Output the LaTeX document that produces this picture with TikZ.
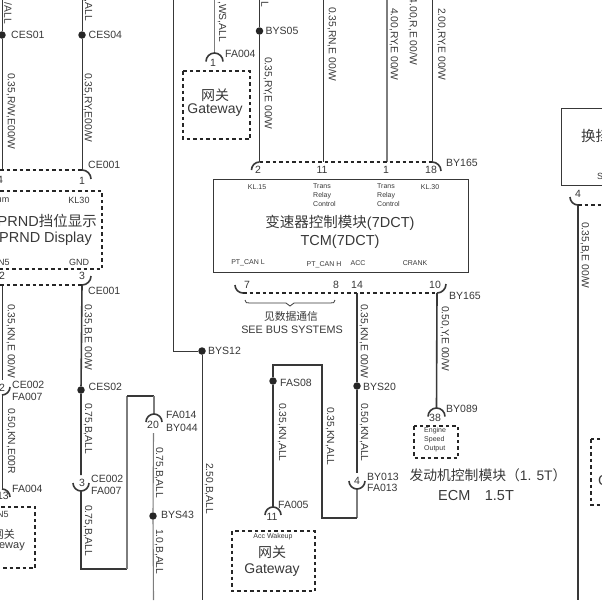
\documentclass[tikz,border=0pt]{standalone}
\usepackage{fontspec}
\setmainfont{Liberation Sans}
\newfontfamily\cjk{Noto Sans CJK SC}
\definecolor{inkgray}{HTML}{383838}
\definecolor{wiregray}{HTML}{666666}
\tikzset{
	wire/.style = {draw=inkgray, line width=1pt},
	thickwire/.style = {draw=inkgray, line width=1.6pt},
	palewire/.style = {draw=wiregray!85, line width=1.1pt},
	bus/.style = {draw=black!85, line width=1.1pt, dash pattern=on 3.5pt off 3pt},
	pinarc/.style = {draw=inkgray, line width=1.6pt},
	splice/.style = {shape=circle, fill=black!85, minimum size=7.5pt, inner sep=0pt},
	conn/.style = {inkgray, font=\fontsize{10.5}{12}\selectfont, anchor=west, inner sep=0pt, yshift=-.7pt},
	pin/.style = {inkgray, font=\fontsize{10.5}{12}\selectfont, inner sep=0pt},
	wirelabel/.style = {inkgray, font=\fontsize{10.3}{12}\selectfont, rotate=-90, anchor=west, inner sep=0pt},
	tiny/.style = {inkgray, font=\fontsize{7}{8}\selectfont, inner sep=0pt},
	small/.style = {inkgray, font=\fontsize{9}{10}\selectfont, inner sep=0pt},
	title/.style = {inkgray, font=\fontsize{14.5}{16}\selectfont, inner sep=0pt},
	dashbox/.style = {draw=black!85, line width=1.1pt, dash pattern=on 3.5pt off 3pt},
	solidbox/.style = {draw=inkgray, line width=1pt},
}
\begin{document}
\begin{tikzpicture}[x=1pt, y=-1pt]
	\useasboundingbox (0,0) rectangle (602,600);
	\clip (0,0) rectangle (602,600);
	% Boxes
	\draw[dashbox] (-40,191) rectangle (102,269);
	\draw[dashbox] (-40,507) rectangle (35,568);
	\draw[dashbox] (183,71) rectangle (250,139);
	\draw[dashbox] (232,531) rectangle (315,591);
	\draw[dashbox] (414,426) rectangle (458,458);
	\draw[dashbox] (591,439) rectangle (640,505);
	\draw[solidbox] (213.5,179.5) rectangle (468,272);
	\draw[solidbox] (561,108) rectangle (660,185);
	% Splices
	\node[splice] (CES01) at (2,35) {};
	\node[splice] (CES04) at (82,35) {};
	\node[splice] (CES02) at (81,390) {};
	\node[splice] (BYS43) at (153,516) {};
	\node[splice] (BYS05) at (259.5,31) {};
	\node[splice] (BYS12) at (202,351) {};
	\node[splice] (BYS20) at (357,386) {};
	\node[splice] (FAS08) at (273,381) {};
	% Pins, bottom or top of each half circle
	\coordinate (p1) at (82,170);
	\coordinate (p4) at (2,170);
	\coordinate (p3) at (82,285);
	\coordinate (p2) at (2,285);
	\coordinate (ce3a) at (81,475);
	\coordinate (ce3b) at (81,491);
	\coordinate (ce2a) at (2,380);
	\coordinate (ce2b) at (2,395);
	\coordinate (fa13) at (2,489);
	\coordinate (by20) at (154,414);
	\coordinate (by20b) at (153.5,433);
	\coordinate (fa1) at (214.5,53);
	\coordinate (by2) at (259.5,162);
	\coordinate (by11) at (323,162);
	\coordinate (by1) at (387,162);
	\coordinate (by18) at (432,162);
	\coordinate (by7) at (243,293);
	\coordinate (by8) at (337,293);
	\coordinate (by14) at (357,293);
	\coordinate (by10) at (437,293);
	\coordinate (by4a) at (357,473);
	\coordinate (by4b) at (357,489);
	\coordinate (fa11) at (273,507);
	\coordinate (by38) at (436.5,408);
	\coordinate (sw4) at (578,205);
	% Wires
	\draw[wire] (2,0) -- (CES01) -- (p4);
	\draw[wire] (82,0) -- (CES04) -- (p1);
	\draw[thickwire] (p3) -- (CES02) -- (ce3a);
	\draw[wire] (p2) -- (ce2a);
	\draw[wire] (ce2b) -- (fa13);
	\draw[thickwire] (ce3b) -- (81,569) -- (127,569);
	\draw[palewire] (127,569) -- (127,396);
	\draw[thickwire] (127,396) -- (154,396);
	\draw[palewire] (154,396) -- (by20);
	\draw[palewire] (by20b) -- (BYS43) -- (153.5,600);
	\draw[wire] (173,0) -- (173,351) -- (BYS12);
	\draw[wire] (BYS12) -- (202,600);
	\draw[palewire] (214.5,0) -- (fa1);
	\draw[wire] (259.5,0) -- (BYS05) -- (by2);
	\draw[wire] (323,0) -- (by11);
	\draw[palewire] (387,0) -- (by1);
	\draw[wire] (432,0) -- (by18);
	\draw[thickwire] (by14) -- (BYS20) -- (by4a);
	\draw[palewire] (by4b) -- (357,518);
	\draw[thickwire] (357,518) -- (322,518) -- (322,365) -- (273,365) -- (FAS08) -- (fa11);
	\draw[thickwire] (by10) -- (by38);
	\draw[thickwire] (sw4) -- (578,600);
	% Dashed bus lines
	\draw[bus] (0,170) -- (p1);
	\draw[bus] (0,285) -- (p3);
	\draw[bus] (by2) -- (by18);
	\draw[bus] (by7) -- (by10);
	\draw[bus] (sw4) -- (602,205);
	% Half circles
	\draw[pinarc] (p1) arc (-90:0:9);
	\draw[pinarc] (p3) arc (90:0:9);
	\draw[pinarc] (ce3b) arc (90:180:8) (ce3b) arc (90:0:8);
	\draw[pinarc] (ce2b) arc (90:0:8);
	\draw[pinarc] (fa13) arc (-90:0:8);
	\draw[pinarc] (by20) arc (-90:-180:8) (by20) arc (-90:0:8);
	\draw[pinarc] (fa1) arc (-90:-180:8.5) (fa1) arc (-90:0:8.5);
	\draw[pinarc] (by2) arc (-90:-180:8);
	\draw[pinarc] (by18) arc (-90:0:9);
	\draw[pinarc] (by7) arc (90:180:8);
	\draw[pinarc] (by10) arc (90:0:9);
	\draw[pinarc] (by4b) arc (90:180:8) (by4b) arc (90:0:8);
	\draw[pinarc] (fa11) arc (-90:-180:8) (fa11) arc (-90:0:8);
	\draw[pinarc] (by38) arc (-90:-180:8.5) (by38) arc (-90:0:8.5);
	\draw[pinarc] (sw4) arc (90:180:8);
	% Bus bracket
	\coordinate (bra) at (245,300);
	\coordinate (ket) at (335,300);
	\draw[draw=inkgray, line width=.8pt] (bra) .. controls (245,303) and (247,303) .. (250,303) -- (286,303) -- (290,306) -- (294,303) -- (330,303) .. controls (333,303) and (335,303) .. (ket);
	% Splice labels
	\node[conn] (lCES01) at (11,34) {CES01};
	\node[conn] (lCES04) at (88.5,34) {CES04};
	\node[conn] (lCES02) at (88.5,386) {CES02};
	\node[conn] (lBYS43) at (161,514) {BYS43};
	\node[conn] (lBYS05) at (265.5,30) {BYS05};
	\node[conn] (lBYS12) at (208,350) {BYS12};
	\node[conn] (lBYS20) at (363,386) {BYS20};
	\node[conn] (lFAS08) at (280,382) {FAS08};
	% Connector labels
	\node[conn] (lCE001a) at (88,164) {CE001};
	\node[conn] (lCE001b) at (88,290) {CE001};
	\node[conn] (lCE002a) at (12,384) {CE002};
	\node[conn] (lFA007a) at (12,396) {FA007};
	\node[conn] (lFA004a) at (12,488) {FA004};
	\node[conn] (lCE002b) at (91,478) {CE002};
	\node[conn] (lFA007b) at (91,490) {FA007};
	\node[conn] (lFA014) at (166,414) {FA014};
	\node[conn] (lBY044) at (166,427) {BY044};
	\node[conn] (lFA004b) at (225,53) {FA004};
	\node[conn] (lBY165a) at (446,162) {BY165};
	\node[conn] (lBY165b) at (449,295) {BY165};
	\node[conn] (lBY013) at (367,476) {BY013};
	\node[conn] (lFA013) at (367,487) {FA013};
	\node[conn] (lFA005) at (278,504) {FA005};
	\node[conn] (lBY089) at (446,408) {BY089};
	% Pin numbers
	\node[pin] (n4) at (0,180) {4};
	\node[pin] (n1) at (82,181) {1};
	\node[pin] (n2) at (2,276) {2};
	\node[pin] (n3) at (82,276) {3};
	\node[pin] (n2b) at (2,388) {2};
	\node[pin] (n13) at (3,496) {13};
	\node[pin] (n3b) at (82,483) {3};
	\node[pin] (n20) at (153,425) {20};
	\node[pin] (n1b) at (213,63) {1};
	\node[pin] (n2c) at (258,170) {2};
	\node[pin] (n11) at (322,170) {11};
	\node[pin] (n1c) at (386,170) {1};
	\node[pin] (n18) at (431,170) {18};
	\node[pin] (n7) at (247,285) {7};
	\node[pin] (n8) at (336,285) {8};
	\node[pin] (n14) at (357,285) {14};
	\node[pin] (n10) at (435,285) {10};
	\node[pin] (n4b) at (357,481) {4};
	\node[pin] (n11b) at (272,517) {11};
	\node[pin] (n38) at (435,418) {38};
	\node[pin] (n4c) at (578,194) {4};
	% Wire labels
	\node[wirelabel, anchor=east] (w1) at (8,24) {/ALL};
	\node[wirelabel, anchor=east] (w2) at (88,21) {,ALL};
	\node[wirelabel] (w3) at (11,73) {0.35,R/W,E00/W};
	\node[wirelabel] (w4) at (88,73) {0.35,RY,E00/W};
	\node[wirelabel] (w5) at (11,304) {0.35,KN,E 00/W};
	\node[wirelabel] (w6) at (88,304) {0.35,B,E 00/W};
	\node[wirelabel] (w7) at (11,408) {0.50,KN,E00R};
	\node[wirelabel] (w8) at (88,403) {0.75,B,ALL};
	\node[wirelabel] (w9) at (88,505) {0.75,B,ALL};
	\node[wirelabel] (w10) at (159,447) {0.75,B,ALL};
	\node[wirelabel] (w11) at (159,529) {1.0,B,ALL};
	\node[wirelabel] (w12) at (209,463) {2.50,B,ALL};
	\node[wirelabel, anchor=east] (w13) at (222,42) {,WS,ALL};
	\node[wirelabel, anchor=east] (w14) at (265,7) {L};
	\node[wirelabel] (w15) at (268,57) {0.35,RY,E 00/W};
	\node[wirelabel] (w16) at (332,7) {0.35,RN,E 00/W};
	\node[wirelabel] (w17) at (394,8) {4.00,RY,E 00/W};
	\node[wirelabel, anchor=east] (w18) at (413,65) {4.00,R,E 00/W};
	\node[wirelabel] (w19) at (441.5,8) {2.00,RY,E 00/W};
	\node[wirelabel] (w20) at (364,304) {0.35,KN,E 00/W};
	\node[wirelabel] (w21) at (445,306) {0.50,Y,E 00/W};
	\node[wirelabel] (w22) at (364,403) {0.50,KN,ALL};
	\node[wirelabel] (w23) at (282,403) {0.35,KN,ALL};
	\node[wirelabel] (w24) at (330,407) {0.35,KN,ALL};
	\node[wirelabel] (w25) at (585,222) {0.35,B,E 00/W};
	% Module texts
	\node[small] (tKL30a) at (79,200) {KL30};
	\node[small] (tum) at (3,200) {um};
	\node[small] (tN5a) at (4,262) {N5};
	\node[small] (tGND) at (79,262) {GND};
	\node[title, anchor=east] (tPRNDa) at (97,221) {PRND{\cjk 挡位显示}};
	\node[title, anchor=east] (tPRNDb) at (92,239) {PRND Display};
	\node[small] (tN5b) at (3,514) {N5};
	\node[title, anchor=east, font=\fontsize{11}{13}\selectfont] (tGwL1) at (15,534) {\cjk 网关};
	\node[title, anchor=east, font=\fontsize{11}{13}\selectfont] (tGwL2) at (25,546) {Gateway};
	\node[title, font=\fontsize{14}{16}\selectfont] (tGwA1) at (215,95) {\cjk 网关};
	\node[title, font=\fontsize{14}{16}\selectfont] (tGwA2) at (215,110.5) {Gateway};
	\node[title, font=\fontsize{14}{16}\selectfont] (tGwB1) at (272,552) {\cjk 网关};
	\node[title, font=\fontsize{14}{16}\selectfont] (tGwB2) at (272,570) {Gateway};
	\node[tiny] (tAcc) at (273,537) {Acc Wakeup};
	\node[tiny] (tKL15) at (257,187) {KL.15};
	\node[tiny, align=left, anchor=north west] (tTransA) at (313,183) {Trans\\[1pt]Relay\\[1pt]Control};
	\node[tiny, align=left, anchor=north west] (tTransB) at (377,183) {Trans\\[1pt]Relay\\[1pt]Control};
	\node[tiny] (tKL30b) at (430,187) {KL.30};
	\node[title] (tTCMa) at (340,223) {{\cjk 变速器控制模块}(7DCT)};
	\node[title] (tTCMb) at (340,242) {TCM(7DCT)};
	\node[tiny] (tCANL) at (248,263) {PT\_CAN L};
	\node[tiny] (tCANH) at (324,265) {PT\_CAN H};
	\node[tiny] (tACC) at (358,263) {ACC};
	\node[tiny] (tCRANK) at (415,263) {CRANK};
	\node[title, font=\fontsize{10.8}{12}\selectfont] (tBusA) at (291,316) {\cjk 见数据通信};
	\node[title, font=\fontsize{10.8}{12}\selectfont] (tBusB) at (292,330) {SEE BUS SYSTEMS};
	\node[tiny, align=left, anchor=west] (tEngine) at (424,440) {Engine\\[1pt]Speed\\[1pt]Output};
	\node[title, font=\fontsize{13.8}{15}\selectfont] (tECMa) at (488,475) {{\cjk 发动机控制模块（}1. 5T{\cjk ）}};
	\node[title] (tECMb) at (476,495) {ECM\hspace{1em}1.5T};
	\node[title, anchor=west] (tShift) at (581,136) {\cjk 换挡};
	\node[small, anchor=west] (tS) at (597,176) {S};
	\node[title, anchor=west] (tC) at (598,480) {C};
\end{tikzpicture}
\end{document}
